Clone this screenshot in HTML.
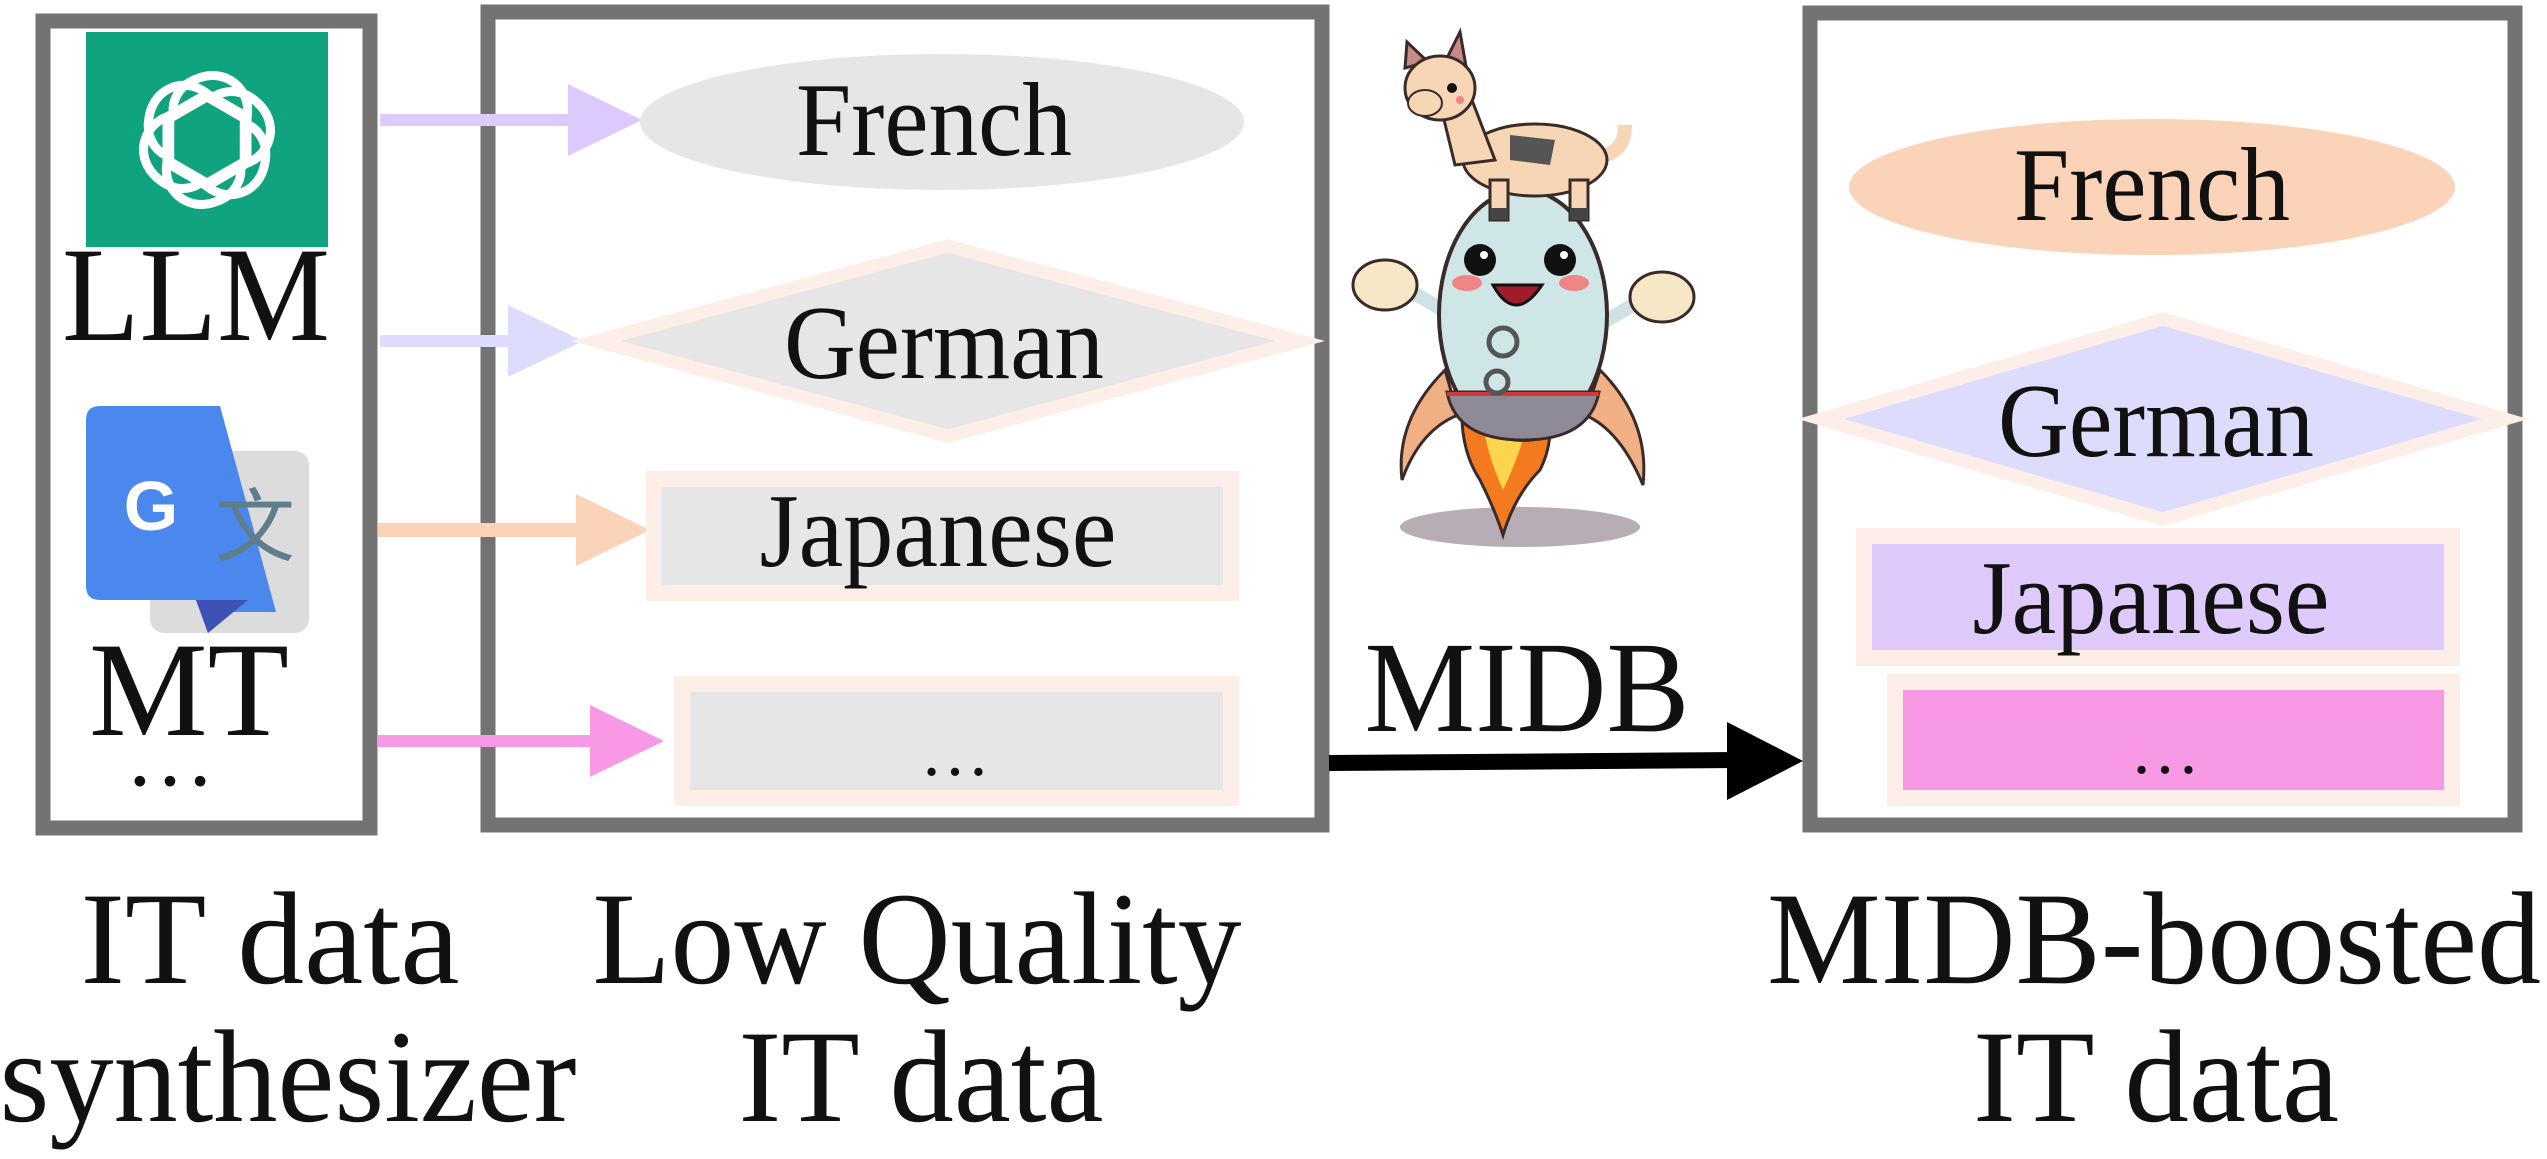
<!DOCTYPE html>
<html><head><meta charset="utf-8"><style>
html,body{margin:0;padding:0;background:#fff;}
svg{display:block;}
text{font-family:"Liberation Serif","Times New Roman",serif;fill:#111;}
</style></head><body>
<svg width="2547" height="1159" viewBox="0 0 2547 1159" xmlns="http://www.w3.org/2000/svg">
<!-- Left box -->
<rect x="43" y="21" width="327" height="807" fill="#fff" stroke="#737373" stroke-width="15"/>
<!-- OpenAI logo -->
<rect x="86" y="32" width="242" height="215" fill="#10a37f"/>
<g fill="none" stroke="#fff" stroke-width="9" transform="translate(207,140)">
  <g id="pt"><path d="M-8,-62 C20,-72 45,-50 40,-22 L40,20 L0,43"/><path d="M-8,-62 C-30,-55 -38,-35 -32,-20"/></g>
  <use href="#pt" transform="rotate(60)"/><use href="#pt" transform="rotate(120)"/>
  <use href="#pt" transform="rotate(180)"/><use href="#pt" transform="rotate(240)"/><use href="#pt" transform="rotate(300)"/>
</g>
<text x="196" y="340" font-size="135" text-anchor="middle" textLength="268" lengthAdjust="spacingAndGlyphs">LLM</text>
<!-- Google Translate icon -->
<rect x="150" y="451" width="159" height="182" rx="14" fill="#dcdcdc"/>
<path d="M100,406 L220,406 L276,612 L217,612 L220,612 L208,633 L196,600 L100,600 Q86,600 86,586 L86,420 Q86,406 100,406 Z" fill="#4a88ee"/>
<path d="M196,600 L248,600 L208,633 Z" fill="#3f51b5"/>
<text x="151" y="530" font-size="70" font-weight="bold" text-anchor="middle" style="fill:#fff;font-family:'Liberation Sans',sans-serif">G</text>
<text x="255" y="555" font-size="80" text-anchor="middle" style="fill:#607d8b;font-family:'Noto Sans CJK SC',sans-serif">文</text>
<text x="189" y="735" font-size="135" text-anchor="middle" textLength="200" lengthAdjust="spacingAndGlyphs">MT</text>
<text x="170" y="785" font-size="90" text-anchor="middle">…</text>

<!-- Middle box -->
<rect x="488" y="12" width="834" height="813" fill="#fff" stroke="#737373" stroke-width="15"/>
<!-- arrows -->
<line x1="380" y1="120" x2="570" y2="120" stroke="#dccafc" stroke-width="12"/>
<polygon points="568,84 642,120 568,156" fill="#dccafc"/>
<line x1="380" y1="341" x2="510" y2="341" stroke="#dedcfd" stroke-width="12"/>
<polygon points="508,305 583,341 508,377" fill="#dedcfd"/>
<line x1="378" y1="530" x2="578" y2="530" stroke="#fbd3b8" stroke-width="14"/>
<polygon points="576,494 650,530 576,566" fill="#fbd3b8"/>
<line x1="378" y1="741" x2="592" y2="741" stroke="#f799e5" stroke-width="12"/>
<polygon points="590,705 664,741 590,777" fill="#f799e5"/>
<!-- nodes -->
<ellipse cx="942" cy="122" rx="302" ry="68" fill="#e6e6e6"/>
<text x="934" y="155" font-size="105" text-anchor="middle" textLength="276" lengthAdjust="spacingAndGlyphs">French</text>
<polygon points="948,246 1300,341 948,436 596,341" fill="#e6e6e6" stroke="#fdeee9" stroke-width="13"/>
<text x="944" y="378" font-size="105" text-anchor="middle" textLength="320" lengthAdjust="spacingAndGlyphs">German</text>
<rect x="654" y="479" width="577" height="114" fill="#e6e6e6" stroke="#fdeee9" stroke-width="16"/>
<text x="938" y="566" font-size="105" text-anchor="middle" textLength="357" lengthAdjust="spacingAndGlyphs">Japanese</text>
<rect x="682" y="684" width="549" height="114" fill="#e6e6e6" stroke="#fdeee9" stroke-width="16"/>
<text x="955" y="775" font-size="70" text-anchor="middle">…</text>

<!-- Mascot -->
<ellipse cx="1520" cy="527" rx="120" ry="20" fill="#b6aeb4"/>
<path d="M1445,370 Q1395,420 1402,480 Q1420,430 1458,415 Z" fill="#f0b083" stroke="#3a2a2a" stroke-width="3"/>
<path d="M1600,370 Q1650,420 1643,485 Q1620,430 1585,415 Z" fill="#f0b083" stroke="#3a2a2a" stroke-width="3"/>
<path d="M1462,405 Q1460,450 1480,480 Q1495,510 1503,535 Q1515,495 1540,470 Q1555,440 1548,405 Z" fill="#f47a20" stroke="#3a2a2a" stroke-width="3"/>
<path d="M1482,415 Q1485,450 1503,490 Q1520,455 1530,415 Q1505,440 1482,415 Z" fill="#fcd54c"/>
<line x1="1400" y1="285" x2="1460" y2="320" stroke="#cfe3e6" stroke-width="14"/>
<line x1="1650" y1="295" x2="1590" y2="330" stroke="#cfe3e6" stroke-width="14"/>
<ellipse cx="1385" cy="285" rx="32" ry="25" fill="#f6e7c6" stroke="#3a2a2a" stroke-width="3"/>
<ellipse cx="1662" cy="297" rx="32" ry="25" fill="#f6e7c6" stroke="#3a2a2a" stroke-width="3"/>
<ellipse cx="1523" cy="315" rx="84" ry="125" fill="#cfe6e6" stroke="#3a2a2a" stroke-width="4"/>
<path d="M1447,392 L1599,392 Q1590,440 1523,440 Q1456,440 1447,392 Z" fill="#8e8a98" stroke="#3a2a2a" stroke-width="3"/>
<line x1="1447" y1="394" x2="1599" y2="394" stroke="#d03a3a" stroke-width="4"/>
<circle cx="1480" cy="260" r="16" fill="#111"/><circle cx="1560" cy="260" r="16" fill="#111"/>
<circle cx="1484" cy="255" r="4" fill="#fff"/><circle cx="1564" cy="255" r="4" fill="#fff"/>
<ellipse cx="1467" cy="283" rx="15" ry="8" fill="#f08585"/><ellipse cx="1574" cy="283" rx="15" ry="8" fill="#f08585"/>
<path d="M1493,285 Q1515,325 1542,285 Z" fill="#a01c2c" stroke="#111" stroke-width="3"/>
<circle cx="1503" cy="342" r="14" fill="none" stroke="#555" stroke-width="5"/>
<circle cx="1497" cy="382" r="11" fill="none" stroke="#555" stroke-width="5"/>
<!-- llama -->
<path d="M1605,155 Q1625,150 1625,125" stroke="#f6d6b4" stroke-width="14" fill="none"/>
<ellipse cx="1535" cy="160" rx="72" ry="36" fill="#f6d6b4" stroke="#3a2a2a" stroke-width="3"/>
<path d="M1510,135 L1555,140 L1550,165 L1510,160 Z" fill="#555"/>
<rect x="1490" y="180" width="18" height="40" fill="#f6d6b4" stroke="#3a2a2a" stroke-width="3"/>
<rect x="1570" y="180" width="18" height="40" fill="#f6d6b4" stroke="#3a2a2a" stroke-width="3"/>
<rect x="1490" y="208" width="18" height="12" fill="#444"/><rect x="1570" y="208" width="18" height="12" fill="#444"/>
<path d="M1438,95 L1470,95 L1495,160 L1455,165 Z" fill="#f6d6b4" stroke="#3a2a2a" stroke-width="3"/>
<path d="M1405,68 L1407,42 L1428,62 Z M1447,58 L1460,32 L1466,66 Z" fill="#c98a86" stroke="#3a2a2a" stroke-width="3"/>
<ellipse cx="1440" cy="88" rx="35" ry="32" fill="#f6d6b4" stroke="#3a2a2a" stroke-width="3"/>
<ellipse cx="1425" cy="103" rx="17" ry="13" fill="#f6d6b4" stroke="#3a2a2a" stroke-width="2"/>
<circle cx="1452" cy="88" r="5" fill="#111"/>
<circle cx="1460" cy="100" r="4" fill="#f08585"/>

<text x="1527" y="731" font-size="130" text-anchor="middle" textLength="325" lengthAdjust="spacingAndGlyphs">MIDB</text>
<line x1="1329" y1="763" x2="1740" y2="760" stroke="#000" stroke-width="16"/>
<polygon points="1727,722 1803,761 1727,800" fill="#000"/>

<!-- Right box -->
<rect x="1810" y="13" width="705" height="812" fill="#fff" stroke="#737373" stroke-width="15"/>
<ellipse cx="2152" cy="187" rx="303" ry="68" fill="#fbd3b8"/>
<text x="2152" y="220" font-size="105" text-anchor="middle" textLength="276" lengthAdjust="spacingAndGlyphs">French</text>
<polygon points="2163,319 2505,419 2163,519 1821,419" fill="#dedcfd" stroke="#fdeee9" stroke-width="13"/>
<text x="2156" y="456" font-size="105" text-anchor="middle" textLength="316" lengthAdjust="spacingAndGlyphs">German</text>
<rect x="1864" y="536" width="588" height="122" fill="#dfcafc" stroke="#fdeee9" stroke-width="16"/>
<text x="2151" y="633" font-size="105" text-anchor="middle" textLength="357" lengthAdjust="spacingAndGlyphs">Japanese</text>
<rect x="1895" y="682" width="557" height="116" fill="#f799e5" stroke="#fdeee9" stroke-width="16"/>
<text x="2165" y="773" font-size="70" text-anchor="middle">…</text>

<!-- bottom labels -->
<text x="270" y="983" font-size="132" text-anchor="middle" textLength="379" lengthAdjust="spacingAndGlyphs">IT data</text>
<text x="288" y="1121" font-size="132" text-anchor="middle" textLength="577" lengthAdjust="spacingAndGlyphs">synthesizer</text>
<text x="917" y="983" font-size="132" text-anchor="middle" textLength="649" lengthAdjust="spacingAndGlyphs">Low Quality</text>
<text x="921" y="1121" font-size="132" text-anchor="middle" textLength="365" lengthAdjust="spacingAndGlyphs">IT data</text>
<text x="2154" y="983" font-size="132" text-anchor="middle" textLength="774" lengthAdjust="spacingAndGlyphs">MIDB-boosted</text>
<text x="2156" y="1121" font-size="132" text-anchor="middle" textLength="366" lengthAdjust="spacingAndGlyphs">IT data</text>
</svg>
</body></html>
